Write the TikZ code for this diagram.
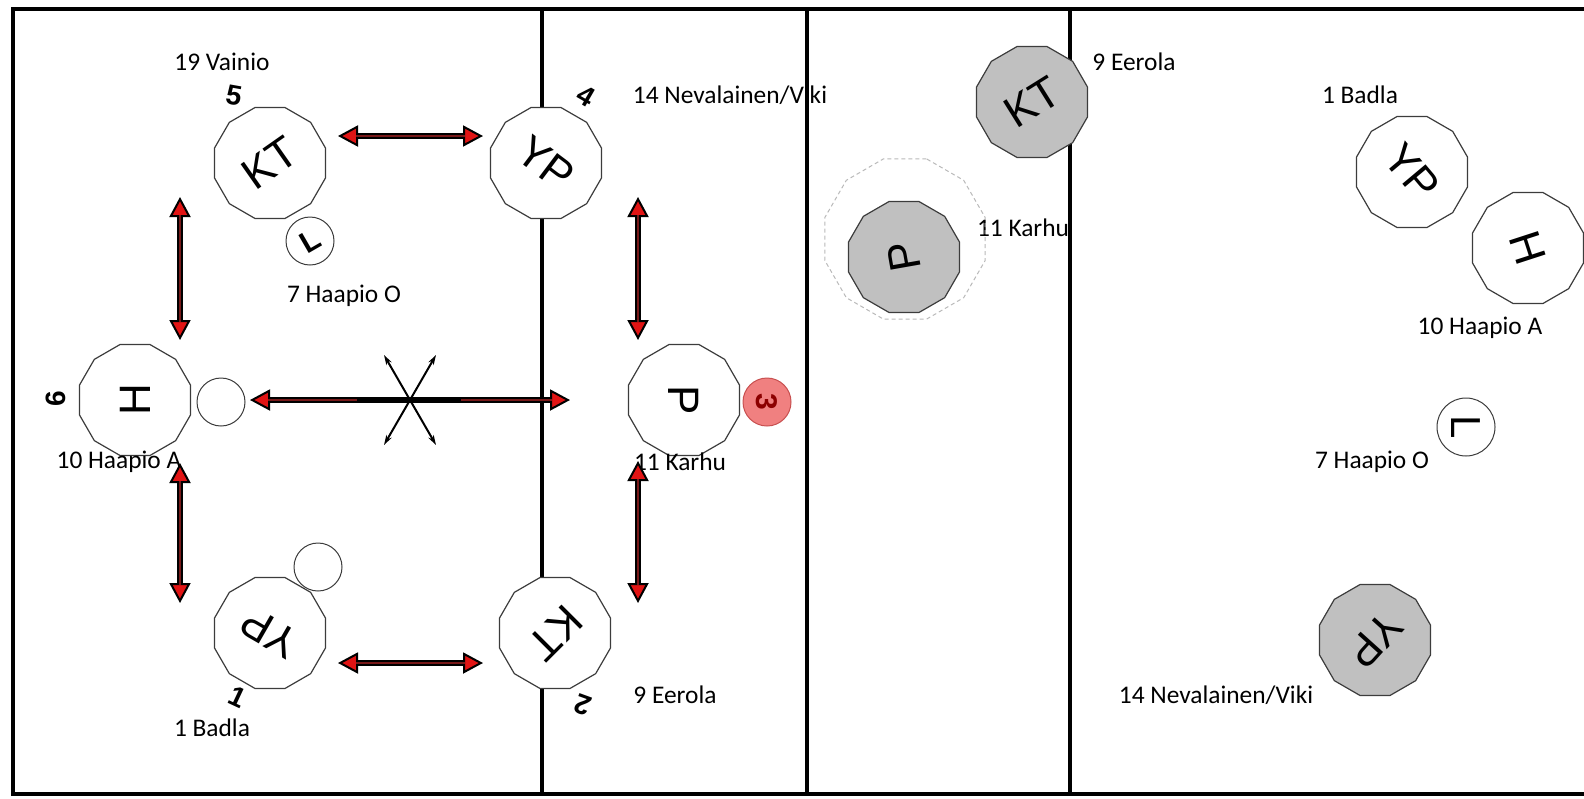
\documentclass[tikz,border=0pt]{standalone}
\usepackage{fontspec}
\usepackage{graphicx}
\setmainfont{Carlito}
\newfontfamily\glyphfont{Liberation Sans}
\usetikzlibrary{shapes.geometric,arrows.meta}
\definecolor{headred}{RGB}{225,20,20}
\definecolor{corered}{RGB}{120,25,25}
\definecolor{pgray}{RGB}{192,192,192}
\definecolor{ballfill}{RGB}{240,128,128}
\definecolor{balledge}{RGB}{200,80,80}
\definecolor{balltext}{RGB}{140,0,0}
\definecolor{edgegray}{RGB}{60,60,60}
\begin{document}
\begin{tikzpicture}[x=0.5pt,y=-0.5pt,
  player/.style={regular polygon, regular polygon sides=12, minimum size=57.5pt, inner sep=0pt,
    draw=edgegray, line width=0.6pt, fill=white, font=\glyphfont\fontsize{22}{22}\selectfont},
  opp/.style={player, fill=pgray},
  puck/.style={circle, minimum size=24pt, inner sep=0pt, draw=edgegray, line width=0.5pt, fill=white,
    font=\glyphfont\bfseries\fontsize{15}{15}\selectfont},
  lbl/.style={font=\fontsize{12.7}{14}\selectfont, inner sep=0pt},
  numlbl/.style={font=\glyphfont\bfseries\fontsize{14}{14}\selectfont, inner sep=0pt},
  wall/.style={line width=2.3pt, line cap=rect},
  divider/.style={line width=2pt},
  passarrow/.style={line width=3pt,
    {Triangle[length=10pt,width=10.5pt,fill=headred,line width=1pt]}-{Triangle[length=10pt,width=10.5pt,fill=headred,line width=1pt]},
    postaction={draw=corered, line width=1.1pt, shorten <=9pt, shorten >=9pt, arrows=-}},
  swing/.style={line width=1pt, {Stealth[length=5pt,width=3pt]}-{Stealth[length=5pt,width=3pt]}}
]
\useasboundingbox (0,0) rectangle (1584,798);

% ---- labels lying under the walls
\node[lbl] (l3) at (730,95) {14 Nevalainen/Viki};
\node[lbl] (l9) at (1023,228) {11 Karhu};

% ---- rink walls
\draw[wall] (1590,9) -- (13,9) -- (13,794) -- (1590,794);
\draw[divider] (542,9) -- (542,794);
\draw[divider] (807,9) -- (807,794);
\draw[divider] (1070,9) -- (1070,794);

% ---- players
\node[regular polygon, regular polygon sides=12, minimum size=83pt, inner sep=0pt,
  draw=gray!55, dash pattern=on 2pt off 1.5pt, line width=0.5pt] (zone) at (905,239) {};

\node[player] (ktA) at (270,163) {\rotatebox{35}{KT}};
\node[player] (ypA) at (546,163) {\rotatebox{-37}{YP}};
\node[player] (hA) at (135,400) {\rotatebox{90}{H}};
\node[player] (pA) at (684,400) {\rotatebox{-90}{P}};
\node[player] (ypB) at (270,633) {\rotatebox{150}{YP}};
\node[player] (ktB) at (555,633) {\rotatebox{-135}{KT}};

\node[opp] (ktC) at (1032,102) {\rotatebox{32}{KT}};
\node[opp] (pC) at (904,257) {\rotatebox{100}{P}};

\node[player] (ypD) at (1412,172) {\rotatebox{-50}{YP}};
\node[player] (hD) at (1528,248) {\rotatebox{-72}{H}};
\node[opp] (ypE) at (1375,640) {\rotatebox{-132}{YP}};

\node[puck] (lA) at (310,241) {\rotatebox{30}{L}};
\node[puck] (o1) at (221,402) {};
\node[puck] (o2) at (318,567) {};
\node[puck, fill=ballfill, draw=balledge, text=balltext] (ball) at (767,402) {\rotatebox{-90}{3}};
\node[puck, minimum size=29pt, font=\glyphfont\fontsize{21}{21}\selectfont] (lD) at (1466,427) {\rotatebox{-90}{L}};

% ---- other labels
\node[lbl] (l1) at (222,62) {19 Vainio};
\node[lbl] (l2) at (344,296) {7 Haapio O};
\node[lbl] (l4) at (119,462) {10 Haapio A};
\node[lbl] (l5) at (680,462) {11 Karhu};
\node[lbl] (l6) at (212,728) {1 Badla};
\node[lbl] (l7) at (675,695) {9 Eerola};
\node[lbl] (l8) at (1134,62) {9 Eerola};
\node[lbl] (l10) at (1360,95) {1 Badla};
\node[lbl] (l11) at (1480,328) {10 Haapio A};
\node[lbl] (l12) at (1372,462) {7 Haapio O};
\node[lbl] (l13) at (1216,695) {14 Nevalainen/Viki};

\node[numlbl, rotate=-10] (n5) at (234,95) {5};
\node[numlbl, rotate=-30] (n4) at (586,96) {4};
\node[numlbl, rotate=90] (n6) at (56,399) {6};
\node[numlbl, rotate=-25] (n1) at (238,697) {1};
\node[numlbl, rotate=160] (n2) at (583,705) {2};

% ---- arrows
\coordinate (a1s) at (338,136); \coordinate (a1e) at (483,136);
\coordinate (a2s) at (180,197); \coordinate (a2e) at (180,340);
\coordinate (a3s) at (638,197); \coordinate (a3e) at (638,340);
\coordinate (a4s) at (250,400); \coordinate (a4e) at (570,400);
\coordinate (a5s) at (180,463); \coordinate (a5e) at (180,603);
\coordinate (a6s) at (638,461); \coordinate (a6e) at (638,603);
\coordinate (a7s) at (338,663); \coordinate (a7e) at (483,663);
\coordinate (m1) at (357,400); \coordinate (m2) at (461,400);
\coordinate (x1) at (384,355); \coordinate (x2) at (436,445);
\coordinate (x3) at (436,355); \coordinate (x4) at (384,445);

\draw[passarrow] (a1s) -- (a1e);
\draw[passarrow] (a2s) -- (a2e);
\draw[passarrow] (a3s) -- (a3e);
\draw[passarrow] (a4s) -- (a4e);
\draw[passarrow] (a5s) -- (a5e);
\draw[passarrow] (a6s) -- (a6e);
\draw[passarrow] (a7s) -- (a7e);
\draw[line width=3pt] (m1) -- (m2);
\draw[swing] (x1) -- (x2);
\draw[swing] (x3) -- (x4);
\end{tikzpicture}
\end{document}
